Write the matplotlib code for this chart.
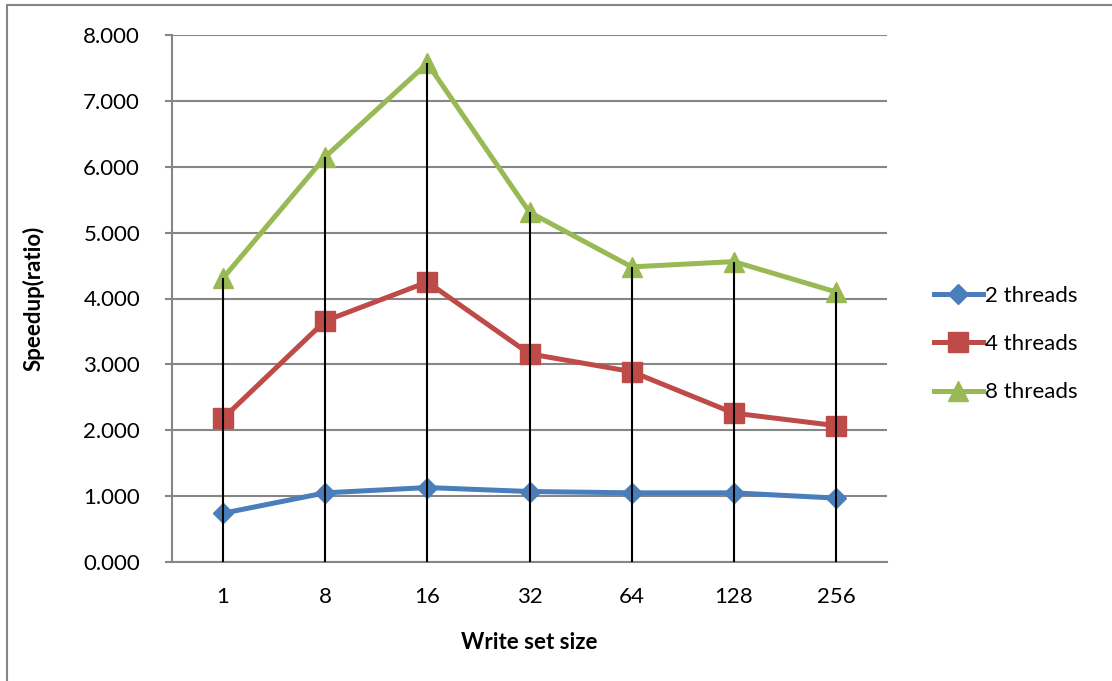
import numpy as np
import matplotlib.pyplot as plt
from matplotlib.patches import Rectangle

# dados do gráfico (speedup por tamanho do write set)
categorias = ["1", "8", "16", "32", "64", "128", "256"]
t2 = [0.74, 1.05, 1.13, 1.07, 1.05, 1.05, 0.97]
t4 = [2.18, 3.66, 4.25, 3.16, 2.89, 2.26, 2.07]
t8 = [4.31, 6.15, 7.57, 5.31, 4.48, 4.56, 4.10]
rotulos = ["2 threads", "4 threads", "8 threads"]

plt.rcParams['font.family'] = ['Lato', 'DejaVu Sans']

fig = plt.figure(figsize=(11.12, 6.81), dpi=100)
ax = fig.add_axes([172/1112, 1 - 562/681, (887-172)/1112, (562-35)/681])

x = np.arange(len(categorias))
cinza = "#868686"

ax.plot(x, t2, color="#4A7EBB", lw=3.6, marker="D", ms=10, label=rotulos[0], zorder=3)
ax.plot(x, t4, color="#BE4B48", lw=3.6, marker="s", ms=14, label=rotulos[1], zorder=3)
ax.plot(x, t8, color="#98B954", lw=3.6, marker="^", ms=14, label=rotulos[2], zorder=3)

# linhas de queda (drop lines) do maior valor até o eixo
topo = np.max([t2, t4, t8], axis=0)
ax.vlines(x, 0, topo, color="black", lw=1.5, zorder=4)

ax.set_xlim(-0.5, 6.5)
ax.set_ylim(0, 8)
ax.set_yticks(np.arange(0, 9, 1))
ax.set_yticklabels([f"{v:.3f}" for v in range(9)], fontsize=16)
ax.set_xticks(x)
ax.set_xticklabels(categorias, fontsize=16)
ax.tick_params(axis="x", length=0, pad=18)
ax.tick_params(axis="y", length=5, color=cinza, width=1.5, pad=18)
ax.yaxis.grid(True, color=cinza, lw=1.5)
ax.set_axisbelow(True)
for lado in ["top", "right"]:
    ax.spines[lado].set_visible(False)
for lado in ["left", "bottom"]:
    ax.spines[lado].set_color(cinza)
    ax.spines[lado].set_linewidth(1.5)

ax.set_xlabel("Write set size", fontsize=16, fontweight="bold", labelpad=18)
ax.set_ylabel("Speedup(ratio)", fontsize=16, fontweight="bold", labelpad=28)

leg = ax.legend(loc="center left", bbox_to_anchor=(925/715 - 172/715, (562-344)/527),
                frameon=False, fontsize=16, handlelength=2.2, handletextpad=0.1,
                labelspacing=1.28, borderaxespad=0)

# borda da área do gráfico
fig.patches.append(Rectangle((7/1112, -0.05), 1.2, 1 - 5.5/681 + 0.05,
                             transform=fig.transFigure, fill=False,
                             edgecolor=cinza, lw=1.5))

fig.savefig("out.png", dpi=100)
